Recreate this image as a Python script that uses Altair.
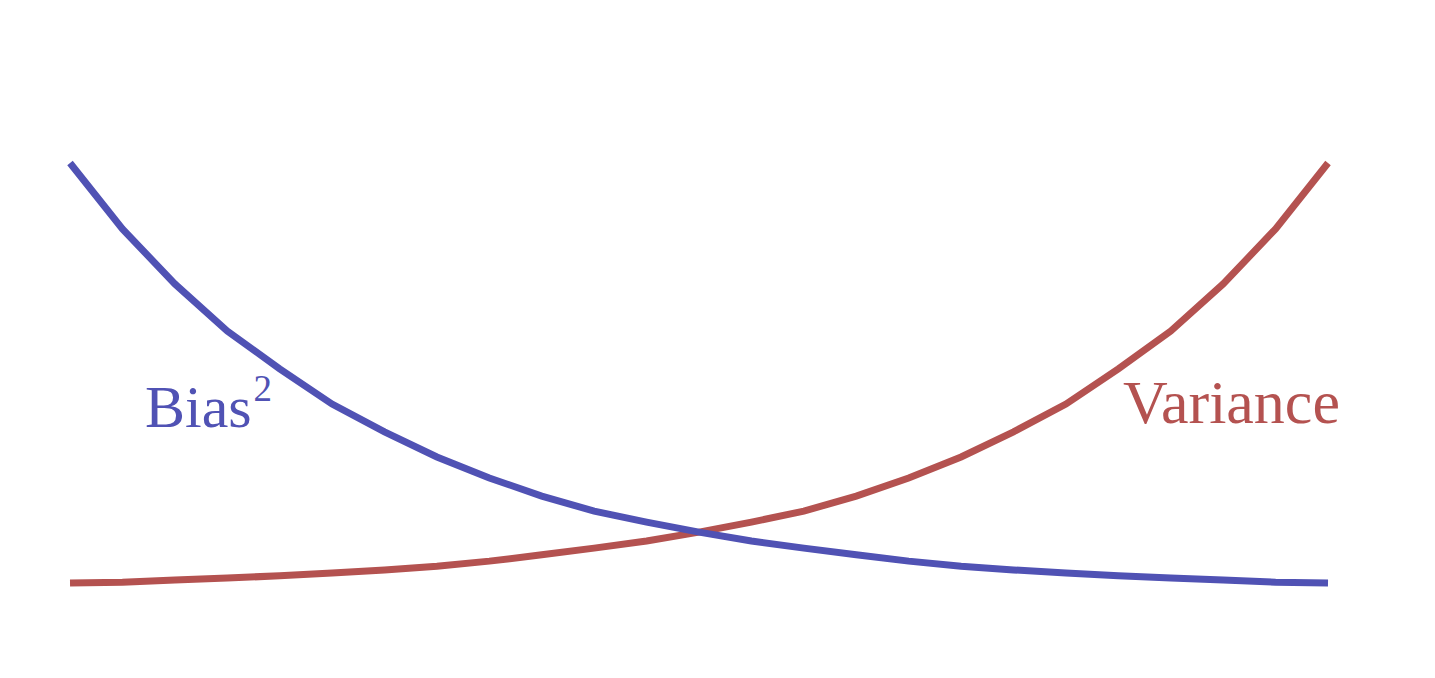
import altair as alt
import pandas as pd

# model complexity index (25 sampled points)
x_idx = list(range(25))
# Bias^2 values (normalised 0..1)
bias = [1.000, 0.843, 0.712, 0.600, 0.510, 0.426, 0.360, 0.300, 0.250, 0.207,
        0.171, 0.145, 0.121, 0.100, 0.083, 0.067, 0.052, 0.040, 0.031, 0.024,
        0.017, 0.012, 0.007, 0.002, 0.000]
# Variance values: mirror image of bias
variance = [0.000, 0.002, 0.007, 0.012, 0.017, 0.024, 0.031, 0.040, 0.052, 0.067,
            0.083, 0.100, 0.121, 0.145, 0.171, 0.207, 0.250, 0.300, 0.360, 0.426,
            0.510, 0.600, 0.712, 0.843, 1.000]

label_text = ["Bias", "2", "Variance"]
label_x = [1.43, 3.50, 20.09]
label_y = [0.371, 0.433, 0.381]
label_size = [60, 37, 62]
label_color = ["#5052B4", "#5052B4", "#B45250"]

BLUE = "#5052B4"
RED = "#B45250"

df_b = pd.DataFrame({"x": x_idx, "y": bias})
df_v = pd.DataFrame({"x": x_idx, "y": variance})
df_l = pd.DataFrame({"text": label_text, "x": label_x, "y": label_y,
                     "size": label_size, "color": label_color})

xs = alt.Scale(domain=[-1.183, 25.526], nice=False, zero=False)
ys = alt.Scale(domain=[-0.1548, 1.369], nice=False, zero=False)

X = alt.X("x:Q", scale=xs, axis=None)
Y = alt.Y("y:Q", scale=ys, axis=None)

var_line = alt.Chart(df_v).mark_line(color=RED, strokeWidth=7).encode(x=X, y=Y)
bias_line = alt.Chart(df_b).mark_line(color=BLUE, strokeWidth=7).encode(x=X, y=Y)

labels = alt.Chart(df_l).mark_text(
    font="Liberation Serif", align="left", baseline="alphabetic"
).encode(
    x=X, y=Y, text="text:N",
    size=alt.Size("size:Q", scale=None, legend=None),
    color=alt.Color("color:N", scale=None, legend=None),
)

chart = alt.layer(var_line, bias_line, labels).properties(
    width=1400, height=640, padding=0
).configure(background="white").configure_view(stroke=None, strokeWidth=0)

chart.save("out.html", embed_options={"renderer": "svg", "actions": False})
